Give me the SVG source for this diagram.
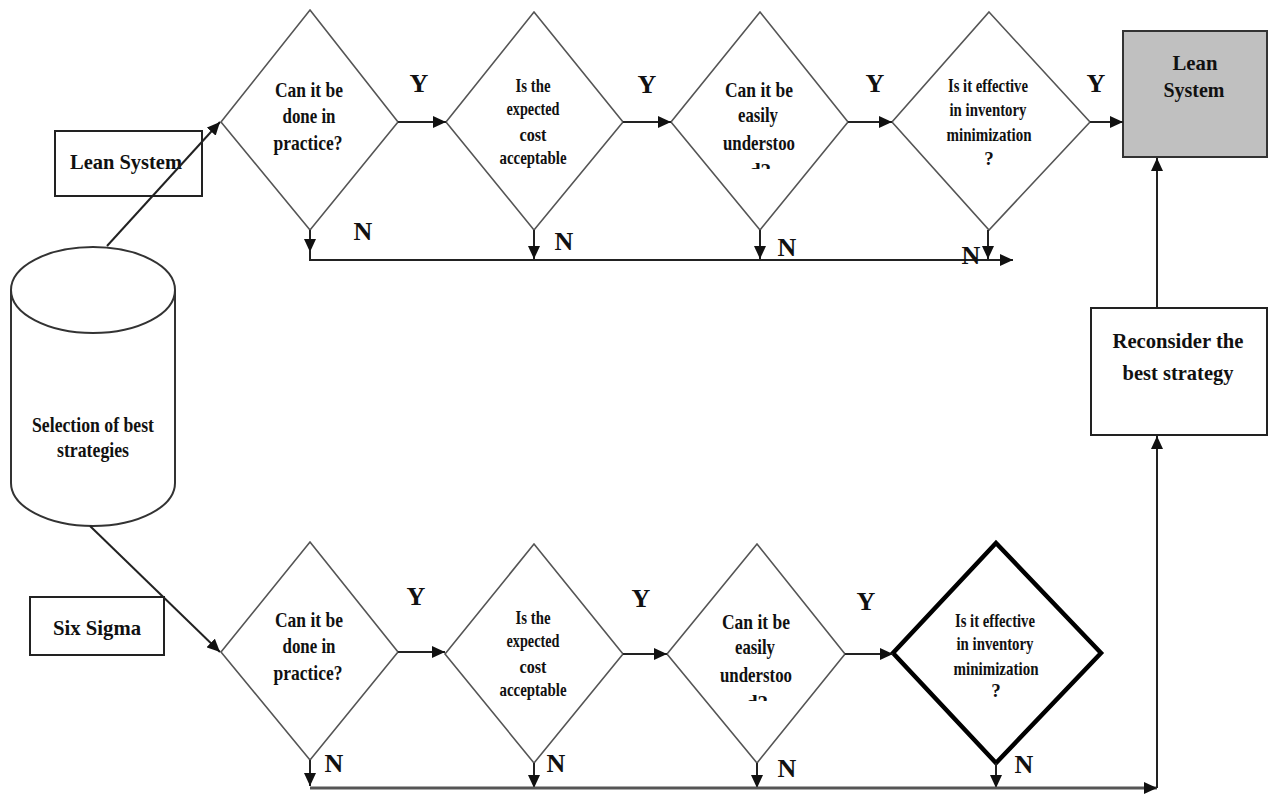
<svg xmlns="http://www.w3.org/2000/svg" width="1277" height="797" viewBox="0 0 1277 797">
  <defs>
    <marker id="arrow" markerUnits="userSpaceOnUse" markerWidth="14" markerHeight="12" refX="13" refY="6" orient="auto">
      <path d="M0,0 L13,6 L0,12 z" fill="#111"/>
    </marker>
    <clipPath id="clipTopUnderstood"><rect x="700" y="150" width="120" height="19"/></clipPath>
    <clipPath id="clipBotUnderstood"><rect x="700" y="682" width="120" height="19"/></clipPath>
    <style>
      .dia { fill: #fff; stroke: #555; stroke-width: 1.6; }
      .dia-bold { fill: #fff; stroke: #000; stroke-width: 4.5; }
      .box { fill: #fff; stroke: #222; stroke-width: 2; }
      .box-grey { fill: #c0c0c0; stroke: #333; stroke-width: 2; }
      .cyl { fill: #fff; stroke: #333; stroke-width: 2; }
      .conn { fill: none; stroke: #222; stroke-width: 2; }
      .bus { fill: none; stroke: #555; stroke-width: 3; }
      text { font-family: "Liberation Serif", "Times New Roman", serif; font-weight: bold; fill: #111; text-anchor: middle; }
      .t22 { font-size: 22px; }
      .t20 { font-size: 21px; }
      .t18 { font-size: 19px; }
      .yn { font-size: 26px; }
    </style>
  </defs>

  <rect width="1277" height="797" fill="#fff"/>

  <!-- start store -->
  <g id="selection">
    <path class="cyl" d="M11,290 V483 A82,43 0 0 0 175,483 V290"/>
    <ellipse class="cyl" cx="93" cy="290" rx="82" ry="43"/>
    <text class="t22" x="93" y="432" textLength="122" lengthAdjust="spacingAndGlyphs">Selection of best</text>
    <text class="t22" x="93" y="457" textLength="72" lengthAdjust="spacingAndGlyphs">strategies</text>
  </g>

  <g id="lean-label">
    <rect class="box" x="55" y="131" width="147" height="65"/>
    <text class="t22" x="126" y="169" textLength="112" lengthAdjust="spacingAndGlyphs">Lean System</text>
  </g>

  <g id="sixsigma-label">
    <rect class="box" x="30" y="597" width="134" height="58"/>
    <text class="t22" x="97" y="635" textLength="88" lengthAdjust="spacingAndGlyphs">Six Sigma</text>
  </g>

  <!-- upper branch decisions -->
  <g id="lean-practice">
    <polygon class="dia" points="310,10 398,122 310,230 221,122"/>
    <text class="t20" x="309" y="97" textLength="68" lengthAdjust="spacingAndGlyphs">Can it be</text>
    <text class="t20" x="309" y="123" textLength="53" lengthAdjust="spacingAndGlyphs">done in</text>
    <text class="t20" x="308" y="150" textLength="69" lengthAdjust="spacingAndGlyphs">practice?</text>
  </g>

  <g id="lean-cost">
    <polygon class="dia" points="534,12 623,122 534,230 446,122"/>
    <text class="t18" x="533" y="92" textLength="35" lengthAdjust="spacingAndGlyphs">Is the</text>
    <text class="t18" x="533" y="115" textLength="53" lengthAdjust="spacingAndGlyphs">expected</text>
    <text class="t18" x="533" y="141" textLength="27" lengthAdjust="spacingAndGlyphs">cost</text>
    <text class="t18" x="533" y="164" textLength="67" lengthAdjust="spacingAndGlyphs">acceptable</text>
  </g>

  <g id="lean-understood">
    <polygon class="dia" points="760,12 848,122 760,230 671,122"/>
    <text class="t20" x="759" y="97" textLength="68" lengthAdjust="spacingAndGlyphs">Can it be</text>
    <text class="t20" x="758" y="122" textLength="40" lengthAdjust="spacingAndGlyphs">easily</text>
    <text class="t20" x="759" y="150" textLength="72" lengthAdjust="spacingAndGlyphs">understoo</text>
    <text class="t20" x="760" y="178" clip-path="url(#clipTopUnderstood)">d?</text>
  </g>

  <g id="lean-inventory">
    <polygon class="dia" points="989,12 1090,122 989,230 892,122"/>
    <text class="t18" x="988" y="92" textLength="80" lengthAdjust="spacingAndGlyphs">Is it effective</text>
    <text class="t18" x="988" y="116" textLength="77" lengthAdjust="spacingAndGlyphs">in inventory</text>
    <text class="t18" x="989" y="141" textLength="85" lengthAdjust="spacingAndGlyphs">minimization</text>
    <text class="t18" x="989" y="165">?</text>
  </g>

  <g id="lean-result">
    <rect class="box-grey" x="1123" y="31" width="144" height="126"/>
    <text class="t22" x="1195" y="70" textLength="45" lengthAdjust="spacingAndGlyphs">Lean</text>
    <text class="t22" x="1194" y="97" textLength="61" lengthAdjust="spacingAndGlyphs">System</text>
  </g>

  <g id="reconsider">
    <rect class="box" x="1091" y="308" width="176" height="127"/>
    <text class="t22" x="1178" y="348" textLength="131" lengthAdjust="spacingAndGlyphs">Reconsider the</text>
    <text class="t22" x="1178" y="380" textLength="111" lengthAdjust="spacingAndGlyphs">best strategy</text>
  </g>

  <!-- lower branch decisions -->
  <g id="six-practice">
    <polygon class="dia" points="310,542 398,652 310,760 221,652"/>
    <text class="t20" x="309" y="627" textLength="68" lengthAdjust="spacingAndGlyphs">Can it be</text>
    <text class="t20" x="309" y="653" textLength="53" lengthAdjust="spacingAndGlyphs">done in</text>
    <text class="t20" x="308" y="680" textLength="69" lengthAdjust="spacingAndGlyphs">practice?</text>
  </g>

  <g id="six-cost">
    <polygon class="dia" points="534,544 623,654 534,763 445,654"/>
    <text class="t18" x="533" y="624" textLength="35" lengthAdjust="spacingAndGlyphs">Is the</text>
    <text class="t18" x="533" y="647" textLength="53" lengthAdjust="spacingAndGlyphs">expected</text>
    <text class="t18" x="533" y="673" textLength="27" lengthAdjust="spacingAndGlyphs">cost</text>
    <text class="t18" x="533" y="696" textLength="67" lengthAdjust="spacingAndGlyphs">acceptable</text>
  </g>

  <g id="six-understood">
    <polygon class="dia" points="757,544 845,654 757,763 667,654"/>
    <text class="t20" x="756" y="629" textLength="68" lengthAdjust="spacingAndGlyphs">Can it be</text>
    <text class="t20" x="755" y="654" textLength="40" lengthAdjust="spacingAndGlyphs">easily</text>
    <text class="t20" x="756" y="682" textLength="72" lengthAdjust="spacingAndGlyphs">understoo</text>
    <text class="t20" x="757" y="710" clip-path="url(#clipBotUnderstood)">d?</text>
  </g>

  <g id="six-inventory">
    <polygon class="dia-bold" points="996,543 1101,653 996,763 893,653"/>
    <text class="t18" x="995" y="627" textLength="80" lengthAdjust="spacingAndGlyphs">Is it effective</text>
    <text class="t18" x="995" y="650" textLength="77" lengthAdjust="spacingAndGlyphs">in inventory</text>
    <text class="t18" x="996" y="675" textLength="85" lengthAdjust="spacingAndGlyphs">minimization</text>
    <text class="t18" x="996" y="697">?</text>
  </g>

  <!-- connectors (drawn on top, the start line crosses the label box) -->
  <g id="connectors">
    <!-- start store to the two branches -->
    <line class="conn" x1="107" y1="246" x2="220" y2="122" marker-end="url(#arrow)"/>
    <line class="conn" x1="90" y1="526" x2="220" y2="652" marker-end="url(#arrow)"/>

    <!-- upper branch: yes path -->
    <line class="conn" x1="398" y1="122" x2="446" y2="122" marker-end="url(#arrow)"/>
    <line class="conn" x1="623" y1="122" x2="671" y2="122" marker-end="url(#arrow)"/>
    <line class="conn" x1="848" y1="122" x2="892" y2="122" marker-end="url(#arrow)"/>
    <line class="conn" x1="1090" y1="122" x2="1123" y2="122" marker-end="url(#arrow)"/>

    <!-- upper branch: no path -->
    <line class="conn" x1="310" y1="230" x2="310" y2="252" marker-end="url(#arrow)"/>
    <line class="conn" x1="534" y1="230" x2="534" y2="259" marker-end="url(#arrow)"/>
    <line class="conn" x1="760" y1="230" x2="760" y2="259" marker-end="url(#arrow)"/>
    <line class="conn" x1="988" y1="230" x2="988" y2="259" marker-end="url(#arrow)"/>
    <path class="conn" d="M310,250 V260 H1013" marker-end="url(#arrow)"/>

    <!-- lower branch: yes path -->
    <line class="conn" x1="398" y1="652" x2="445" y2="652" marker-end="url(#arrow)"/>
    <line class="conn" x1="623" y1="654" x2="667" y2="654" marker-end="url(#arrow)"/>
    <line class="conn" x1="845" y1="654" x2="893" y2="654" marker-end="url(#arrow)"/>

    <!-- lower branch: no path -->
    <line class="conn" x1="310" y1="760" x2="310" y2="786" marker-end="url(#arrow)"/>
    <line class="conn" x1="534" y1="763" x2="534" y2="788" marker-end="url(#arrow)"/>
    <line class="conn" x1="757" y1="763" x2="757" y2="788" marker-end="url(#arrow)"/>
    <line class="conn" x1="996" y1="763" x2="996" y2="788" marker-end="url(#arrow)"/>
    <path class="bus" d="M310,788 H1157" marker-end="url(#arrow)"/>

    <!-- feedback to reconsider, then to result -->
    <path class="conn" d="M1157,788 V436" marker-end="url(#arrow)"/>
    <path class="conn" d="M1157,308 V158" marker-end="url(#arrow)"/>
  </g>

  <!-- branch labels -->
  <g id="labels">
    <text class="yn" x="419" y="92">Y</text>
    <text class="yn" x="647" y="93">Y</text>
    <text class="yn" x="875" y="92">Y</text>
    <text class="yn" x="1096" y="92">Y</text>
    <text class="yn" x="363" y="240">N</text>
    <text class="yn" x="564" y="250">N</text>
    <text class="yn" x="787" y="256">N</text>
    <text class="yn" x="971" y="264">N</text>

    <text class="yn" x="416" y="605">Y</text>
    <text class="yn" x="641" y="607">Y</text>
    <text class="yn" x="866" y="610">Y</text>
    <text class="yn" x="334" y="772">N</text>
    <text class="yn" x="556" y="772">N</text>
    <text class="yn" x="787" y="777">N</text>
    <text class="yn" x="1024" y="773">N</text>
  </g>
</svg>
